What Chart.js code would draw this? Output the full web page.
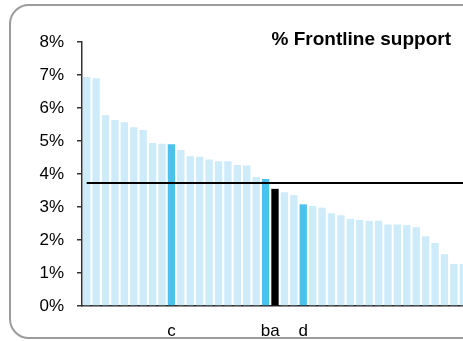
<!DOCTYPE html>
<html lang="en">

<head>
    <meta charset="UTF-8">
    <meta name="viewport" content="width=device-width, initial-scale=1.0">
    <title>% Frontline support</title>
    <script src="https://cdn.jsdelivr.net/npm/chart.js"></script>
    <style>
        html, body {
            margin: 0;
            padding: 0;
            background: #fff;
            overflow: hidden;
        }

        .frame {
            position: absolute;
            left: 9px;
            top: 4px;
            width: 520px;
            height: 335px;
            box-sizing: border-box;
            border: 2px solid #9c9c9c;
            border-radius: 20px;
        }

        #grafico {
            position: absolute;
            left: 0;
            top: 0;
        }
    </style>
</head>

<body>
    <div class="frame"></div>
    <!-- chart is a bit wider than the window, the right end is cut like in the picture -->
    <canvas id="grafico" width="469" height="341"></canvas>

    <script>
        // Data (sorted, % values)
        const categories = [
            "", "", "", "", "", "", "", "", "", "c",
            "", "", "", "", "", "", "", "", "", "b",
            "a", "", "", "d", "", "", "", "", "", "",
            "", "", "", "", "", "", "", "", "", "", ""
        ];
        const frontlineSupport = [
            6.94, 6.90, 5.78, 5.64, 5.57, 5.42, 5.33, 4.94, 4.92, 4.90,
            4.73, 4.54, 4.52, 4.44, 4.39, 4.39, 4.27, 4.26, 3.91, 3.85,
            3.55, 3.45, 3.36, 3.08, 3.03, 2.98, 2.81, 2.75, 2.64, 2.61,
            2.58, 2.58, 2.47, 2.47, 2.45, 2.39, 2.11, 1.91, 1.57, 1.27, 1.27
        ];
        const averageValue = 3.73;
        const yTicks = [0, 1, 2, 3, 4, 5, 6, 7, 8];
        const chartTitle = "% Frontline support";

        const LIGHT = "#cdebf9";
        const HIGHLIGHT = "#4bc2ec";
        const MAIN = "#000000";

        const barColors = categories.map((c) => {
            if (c === "a") return MAIN;
            if (c !== "") return HIGHLIGHT;
            return LIGHT;
        });

        const titlePlugin = {
            id: "cornerTitle",
            afterDraw(chart) {
                const ctx = chart.ctx;
                ctx.save();
                ctx.font = "bold 19px Arial, 'Liberation Sans', sans-serif";
                ctx.fillStyle = "#000";
                ctx.textAlign = "right";
                ctx.textBaseline = "alphabetic";
                ctx.fillText(chartTitle, 451, 45);
                ctx.restore();
            }
        };

        const ctx = document.getElementById("grafico").getContext("2d");

        new Chart(ctx, {
            type: "bar",
            data: {
                labels: categories,
                datasets: [
                    {
                        type: "line",
                        label: "Average",
                        data: categories.map(() => averageValue),
                        borderColor: "#000",
                        borderWidth: 2,
                        pointRadius: 0,
                        pointHoverRadius: 0,
                        fill: false,
                        order: 0,
                    },
                    {
                        label: chartTitle,
                        data: frontlineSupport,
                        backgroundColor: barColors,
                        borderWidth: 0,
                        categoryPercentage: 1.0,
                        barPercentage: 0.78,
                        order: 1,
                    },
                ],
            },
            options: {
                responsive: false,
                animation: false,
                layout: {
                    autoPadding: false,
                    padding: { left: 0, right: 1, top: 42, bottom: 0 },
                },
                plugins: {
                    legend: { display: false },
                    tooltip: { enabled: false },
                },
                scales: {
                    x: {
                        afterFit: (s) => { s.height = 35; },
                        // invisible tick marks push the labels down without widening the axis
                        grid: {
                            display: true,
                            drawOnChartArea: false,
                            drawTicks: true,
                            tickLength: 15,
                            color: "rgba(0,0,0,0)",
                        },
                        border: { display: true, color: "#222", width: 1.5 },
                        ticks: {
                            autoSkip: false,
                            maxRotation: 0,
                            padding: 0,
                            color: "#000",
                            font: { family: "Arial, 'Liberation Sans', sans-serif", size: 17 },
                        },
                    },
                    y: {
                        min: yTicks[0],
                        max: yTicks[yTicks.length - 1],
                        afterFit: (s) => { s.width = 82; },
                        afterBuildTicks: (s) => { s.ticks = yTicks.map((v) => ({ value: v })); },
                        grid: {
                            drawOnChartArea: false,
                            drawTicks: true,
                            tickLength: 5,
                            color: "#333",
                            lineWidth: 1.5,
                        },
                        border: { display: true, color: "#333", width: 1.5 },
                        ticks: {
                            padding: 13,
                            color: "#000",
                            font: { family: "Arial, 'Liberation Sans', sans-serif", size: 17 },
                            callback: (v) => v + "%",
                        },
                    },
                },
            },
            plugins: [titlePlugin],
        });
    </script>
</body>

</html>
